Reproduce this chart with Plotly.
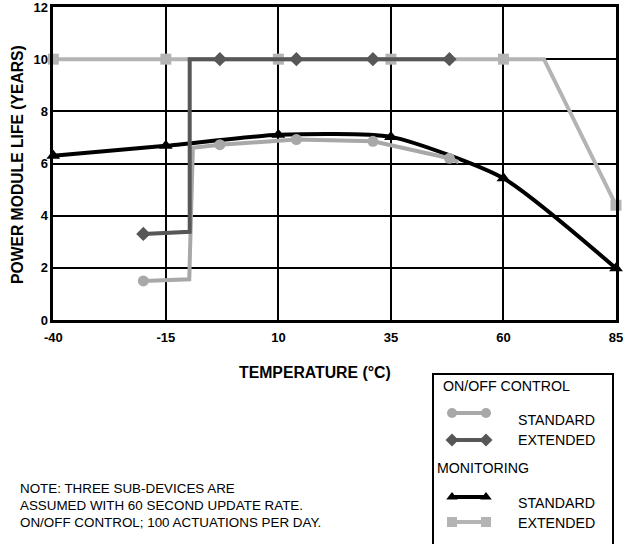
import plotly.graph_objects as go

W, H = 626, 544

# ---- data ----
temp_ticks = [-40, -15, 10, 35, 60, 85]
life_ticks = [0, 2, 4, 6, 8, 10, 12]

# Monitoring - extended (light gray squares)
mon_ext_path_x = [-40, -15, 10, 35, 60, 69, 85]
mon_ext_path_y = [10, 10, 10, 10, 10, 10, 4.4]
mon_ext_mark_x = [-40, -15, 10, 35, 60, 85]
mon_ext_mark_y = [10, 10, 10, 10, 10, 4.4]

# Monitoring - standard (black triangles)
mon_std_x = [-40, -15, 10, 35, 60, 85]
mon_std_y = [6.3, 6.68, 7.1, 7.02, 5.43, 1.98]

# On/Off control - standard (gray circles)
oo_std_path_x = [-20, -9.8, -9.0, -3, 14, 31, 48, 50]
oo_std_path_y = [1.5, 1.56, 6.6, 6.72, 6.92, 6.85, 6.2, 6.05]
oo_std_mark_x = [-20, -3, 14, 31, 48]
oo_std_mark_y = [1.5, 6.72, 6.92, 6.85, 6.2]

# On/Off control - extended (dark gray diamonds)
oo_ext_path_x = [-20, -9.7, -9.7, -3, 14, 31, 48]
oo_ext_path_y = [3.3, 3.38, 10, 10, 10, 10, 10]
oo_ext_mark_x = [-20, -3, 14, 31, 48]
oo_ext_mark_y = [3.3, 10, 10, 10, 10]

C_LIGHT = "#b4b4b4"
C_MID = "#a8a8a8"
C_DARK = "#575757"
C_BLACK = "#000000"

FONT = "Liberation Sans, Arial, sans-serif"

fig = go.Figure()

# monitoring extended
fig.add_trace(go.Scatter(x=mon_ext_path_x, y=mon_ext_path_y, mode="lines",
                         line=dict(color=C_LIGHT, width=4), cliponaxis=False, showlegend=False))
fig.add_trace(go.Scatter(x=mon_ext_mark_x, y=mon_ext_mark_y, mode="markers",
                         marker=dict(symbol="square", size=11, color=C_LIGHT),
                         cliponaxis=False, showlegend=False))
# monitoring standard
fig.add_trace(go.Scatter(x=mon_std_x, y=mon_std_y, mode="lines+markers",
                         line=dict(color=C_BLACK, width=4, shape="spline", smoothing=0.6),
                         marker=dict(symbol="triangle-up", size=12, color=C_BLACK),
                         cliponaxis=False, showlegend=False))
# on/off standard
fig.add_trace(go.Scatter(x=oo_std_path_x, y=oo_std_path_y, mode="lines",
                         line=dict(color=C_MID, width=4), cliponaxis=False, showlegend=False))
fig.add_trace(go.Scatter(x=oo_std_mark_x, y=oo_std_mark_y, mode="markers",
                         marker=dict(symbol="circle", size=11, color=C_MID),
                         cliponaxis=False, showlegend=False))
# on/off extended
fig.add_trace(go.Scatter(x=oo_ext_path_x, y=oo_ext_path_y, mode="lines",
                         line=dict(color=C_DARK, width=4), cliponaxis=False, showlegend=False))
fig.add_trace(go.Scatter(x=oo_ext_mark_x, y=oo_ext_mark_y, mode="markers",
                         marker=dict(symbol="diamond", size=11, color=C_DARK),
                         cliponaxis=False, showlegend=False))

# ---- hand-built legend on a pixel overlay axis ----
leg_x0, leg_x1 = 452, 486
legend_items = [
    ("STANDARD", C_MID, "circle", 413, 420),
    ("EXTENDED", C_DARK, "diamond", 440, 440),
    ("STANDARD", C_BLACK, "triangle-up", 497, 503),
    ("EXTENDED", C_LIGHT, "square", 522, 523),
]
for label, col, sym, sy, ty in legend_items:
    fig.add_trace(go.Scatter(x=[leg_x0, leg_x1], y=[sy, sy], mode="lines+markers",
                             line=dict(color=col, width=4),
                             marker=dict(symbol=sym, size=10, color=col),
                             xaxis="x2", yaxis="y2", cliponaxis=False,
                             showlegend=False, hoverinfo="skip"))


def px(x):
    return x / W


def py(y):
    return 1 - y / H


annotations = []
for label, col, sym, sy, ty in legend_items:
    annotations.append(dict(x=px(516), y=py(ty), xref="paper", yref="paper", text=label,
                            showarrow=False, xanchor="left", yanchor="middle",
                            font=dict(family=FONT, size=14.2, color="black")))
annotations.append(dict(x=px(441), y=py(386), xref="paper", yref="paper", text="ON/OFF CONTROL",
                        showarrow=False, xanchor="left", yanchor="middle",
                        font=dict(family=FONT, size=14.2, color="black")))
annotations.append(dict(x=px(435), y=py(468), xref="paper", yref="paper", text="MONITORING",
                        showarrow=False, xanchor="left", yanchor="middle",
                        font=dict(family=FONT, size=14.2, color="black")))
# note
for i, line in enumerate(["NOTE: THREE SUB-DEVICES ARE",
                          "ASSUMED WITH 60 SECOND UPDATE RATE.",
                          "ON/OFF CONTROL; 100 ACTUATIONS PER DAY."]):
    annotations.append(dict(x=px(18), y=py(488 + 17 * i), xref="paper", yref="paper", text=line,
                            showarrow=False, xanchor="left", yanchor="middle",
                            font=dict(family=FONT, size=13.4, color="black")))
# axis titles
annotations.append(dict(x=px(315), y=py(372), xref="paper", yref="paper",
                        text="<b>TEMPERATURE (°C)</b>", showarrow=False,
                        xanchor="center", yanchor="middle",
                        font=dict(family=FONT, size=15.8, color="black")))
annotations.append(dict(x=px(18), y=py(165), xref="paper", yref="paper",
                        text="<b>POWER MODULE LIFE (YEARS)</b>", showarrow=False, textangle=-90,
                        xanchor="center", yanchor="middle",
                        font=dict(family=FONT, size=15.7, color="black")))

shapes = [dict(type="rect", xref="paper", yref="paper",
               x0=px(433), x1=px(613), y0=py(374), y1=py(570),
               line=dict(color="black", width=2), fillcolor="rgba(0,0,0,0)")]

fig.update_layout(
    width=W, height=H,
    margin=dict(l=0, r=0, t=0, b=0, pad=0, autoexpand=False),
    paper_bgcolor="white", plot_bgcolor="rgba(0,0,0,0)",
    showlegend=False,
    font=dict(family=FONT, color="black"),
    xaxis=dict(domain=[53.3 / W, 616 / W], range=[-40, 85], tickvals=temp_ticks,
               ticktext=[f"<b>{t}</b>" for t in temp_ticks],
               tickfont=dict(family=FONT, size=13, color="black"),
               showgrid=True, gridcolor="black", gridwidth=1.5,
               showline=True, linecolor="black", linewidth=2.5, mirror=True,
               zeroline=False, ticks="", ticklabelstandoff=4, ticklabeloverflow="allow",
               anchor="y", automargin=False),
    yaxis=dict(domain=[1 - 320 / H, 1 - 7 / H], range=[0, 12], tickvals=life_ticks,
               ticktext=[f"<b>{t}</b>" for t in life_ticks],
               tickfont=dict(family=FONT, size=13, color="black"),
               showgrid=True, gridcolor="black", gridwidth=1.5,
               showline=True, linecolor="black", linewidth=2.5, mirror=True,
               zeroline=False, ticks="", ticklabeloverflow="allow",
               anchor="x", automargin=False),
    xaxis2=dict(domain=[0, 1], range=[0, W], visible=False, anchor="y2", automargin=False),
    yaxis2=dict(domain=[0, 1], range=[H, 0], visible=False, anchor="x2", automargin=False),
    annotations=annotations,
    shapes=shapes,
)

fig.write_html("out.html", config={"displayModeBar": False},
               post_script="document.body.style.margin='0';")
